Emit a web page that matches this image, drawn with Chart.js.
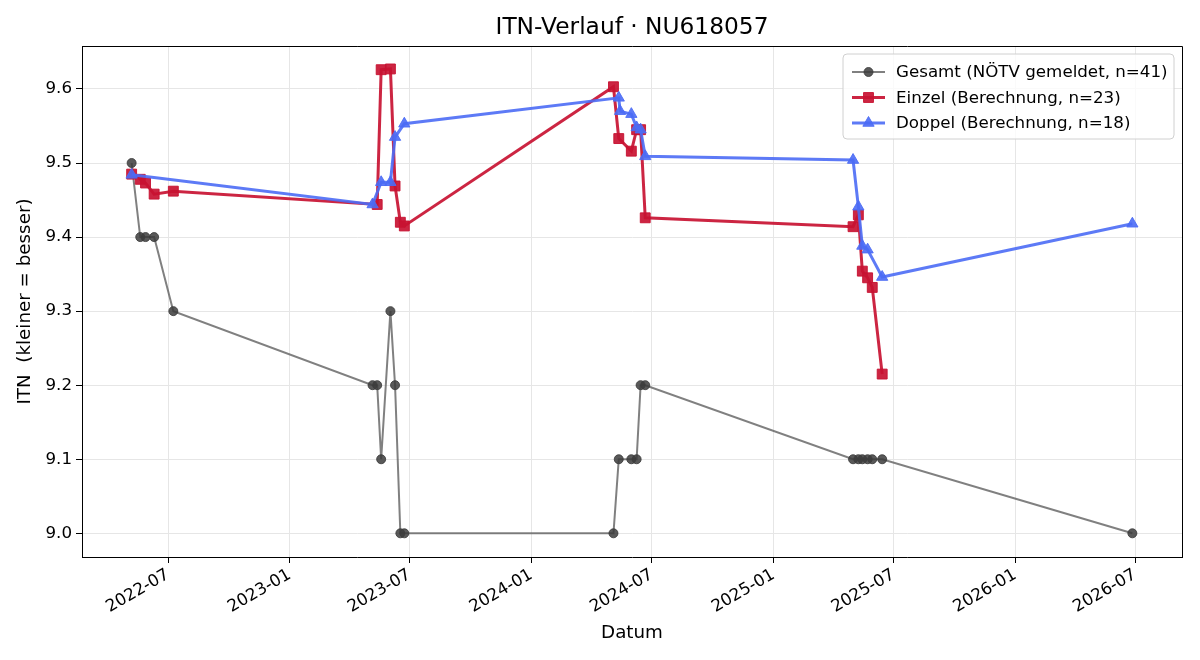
<!DOCTYPE html>
<html>
<head>
<meta charset="utf-8">
<script src="https://cdn.jsdelivr.net/npm/chart.js@4"></script>
<style>
  html, body { margin: 0; padding: 0; background: #fff; }
</style>
</head>
<body>
<canvas id="chart" width="1200" height="660"></canvas>
<script>
'use strict';

// --- data ---
var gesamtDates  = ['2022-05-07', '2022-05-20', '2022-05-28', '2022-06-10', '2022-07-09',
                    '2023-05-06', '2023-05-13', '2023-05-19', '2023-06-02', '2023-06-09', '2023-06-17', '2023-06-23',
                    '2024-05-04', '2024-05-12', '2024-05-31', '2024-06-08', '2024-06-14', '2024-06-21',
                    '2025-05-01', '2025-05-09', '2025-05-15', '2025-05-23', '2025-05-30', '2025-06-14',
                    '2026-06-27'];
var gesamtValues = [9.5, 9.4, 9.4, 9.4, 9.3,
                    9.2, 9.2, 9.1, 9.3, 9.2, 9.0, 9.0,
                    9.0, 9.1, 9.1, 9.1, 9.2, 9.2,
                    9.1, 9.1, 9.1, 9.1, 9.1, 9.1,
                    9.0];

var einzelDates  = ['2022-05-07', '2022-05-20', '2022-05-28', '2022-06-10', '2022-07-09',
                    '2023-05-13', '2023-05-19', '2023-06-02', '2023-06-09', '2023-06-17', '2023-06-23',
                    '2024-05-04', '2024-05-12', '2024-05-31', '2024-06-08', '2024-06-14', '2024-06-21',
                    '2025-05-01', '2025-05-09', '2025-05-15', '2025-05-23', '2025-05-30', '2025-06-14'];
var einzelValues = [9.485, 9.478, 9.473, 9.458, 9.462,
                    9.444, 9.626, 9.627, 9.469, 9.420, 9.415,
                    9.603, 9.533, 9.516, 9.545, 9.545, 9.426,
                    9.414, 9.430, 9.354, 9.345, 9.332, 9.215];

var doppelDates  = ['2022-05-07',
                    '2023-05-06', '2023-05-19', '2023-06-02', '2023-06-09', '2023-06-23',
                    '2024-05-12', '2024-05-14', '2024-05-31', '2024-06-08', '2024-06-14', '2024-06-21',
                    '2025-05-01', '2025-05-09', '2025-05-15', '2025-05-23', '2025-06-14',
                    '2026-06-27'];
var doppelValues = [9.484,
                    9.444, 9.474, 9.474, 9.535, 9.553,
                    9.588, 9.570, 9.566, 9.548, 9.545, 9.509,
                    9.504, 9.441, 9.388, 9.383, 9.346,
                    9.418];

var xTickLabels = ['2022-07', '2023-01', '2023-07', '2024-01', '2024-07', '2025-01', '2025-07', '2026-01', '2026-07'];
var yTickValues = [9.0, 9.1, 9.2, 9.3, 9.4, 9.5, 9.6];

var chartTitle = 'ITN-Verlauf · NU618057';
var seriesLabels = ['Gesamt (NÖTV gemeldet, n=41)', 'Einzel (Berechnung, n=23)', 'Doppel (Berechnung, n=18)'];

// --- helpers ---
function toPoints(dates, values) {
    return dates.map(function (d, i) {
        return { x: Date.parse(d), y: values[i] };
    });
}

function monthValue(label) {
    return Date.parse(label + '-01');
}

var FONT = '"DejaVu Sans", sans-serif';
Chart.defaults.font.family = FONT;
Chart.defaults.color = '#000';

var styles = {
    gesamt: { line: 'rgba(85,85,85,0.75)', point: 'rgba(60,60,60,0.85)', style: 'circle', radius: 4.5, width: 2 },
    einzel: { line: 'rgba(200,18,50,0.92)', point: 'rgba(200,18,50,0.92)', style: 'rect', radius: 7, width: 3 },
    doppel: { line: 'rgba(75,108,245,0.9)', point: 'rgba(75,108,245,0.9)', style: 'triangle', radius: 6.5, width: 3 }
};

function makeDataset(label, data, st, order) {
    return {
        label: label,
        data: data,
        order: order,
        borderColor: st.line,
        borderWidth: st.width,
        backgroundColor: st.point,
        pointBackgroundColor: st.point,
        pointBorderColor: st.point,
        pointBorderWidth: 1,
        pointStyle: st.style,
        pointRadius: st.radius,
        pointHoverRadius: st.radius,
        tension: 0,
        fill: false
    };
}

// title over the plot, spines on top/right and legend inside the plot
var framePlugin = {
    id: 'frameAndLegend',
    afterDraw: function (chart) {
        var ctx = chart.ctx;
        var a = chart.chartArea;
        ctx.save();
        ctx.strokeStyle = '#000';
        ctx.lineWidth = 1;
        ctx.beginPath();
        ctx.moveTo(a.left, a.top + 0.5);
        ctx.lineTo(a.right + 0.5, a.top + 0.5);
        ctx.lineTo(a.right + 0.5, a.bottom);
        ctx.stroke();

        ctx.fillStyle = '#000';
        ctx.font = '23.3px ' + FONT;
        ctx.textAlign = 'center';
        ctx.textBaseline = 'middle';
        ctx.fillText(chartTitle, (a.left + a.right) / 2, 28);

        // legend box
        var bx = 843, by = 54, bw = 331, bh = 85, r = 4;
        ctx.beginPath();
        ctx.moveTo(bx + r, by);
        ctx.arcTo(bx + bw, by, bx + bw, by + bh, r);
        ctx.arcTo(bx + bw, by + bh, bx, by + bh, r);
        ctx.arcTo(bx, by + bh, bx, by, r);
        ctx.arcTo(bx, by, bx + bw, by, r);
        ctx.closePath();
        ctx.fillStyle = 'rgba(255,255,255,0.8)';
        ctx.fill();
        ctx.strokeStyle = '#d0d0d0';
        ctx.stroke();

        var keys = ['gesamt', 'einzel', 'doppel'];
        var rows = [72, 97.5, 123];
        ctx.font = '16.7px ' + FONT;
        ctx.textBaseline = 'middle';
        ctx.textAlign = 'left';
        keys.forEach(function (k, i) {
            var st = styles[k];
            var y = rows[i];
            ctx.strokeStyle = st.line;
            ctx.lineWidth = st.width;
            ctx.beginPath();
            ctx.moveTo(852, y);
            ctx.lineTo(885, y);
            ctx.stroke();
            ctx.fillStyle = st.point;
            ctx.strokeStyle = st.point;
            ctx.lineWidth = 1;
            Chart.helpers.drawPoint(ctx, { pointStyle: st.style, radius: st.radius, rotation: 0, borderWidth: 1 }, 868.5, y);
            ctx.fillStyle = '#000';
            ctx.fillText(seriesLabels[i], 896, y + 1);
        });
        ctx.restore();
    }
};

var ctx = document.getElementById('chart');

var myChart = new Chart(ctx, {
    type: 'line',
    data: {
        datasets: [
            makeDataset(seriesLabels[2], toPoints(doppelDates, doppelValues), styles.doppel, 0),
            makeDataset(seriesLabels[1], toPoints(einzelDates, einzelValues), styles.einzel, 1),
            makeDataset(seriesLabels[0], toPoints(gesamtDates, gesamtValues), styles.gesamt, 2)
        ]
    },
    options: {
        responsive: false,
        devicePixelRatio: 1,
        animation: false,
        layout: { padding: { left: 0, right: 18, top: 46, bottom: 0 } },
        plugins: {
            legend: { display: false },
            tooltip: { enabled: false },
            title: { display: false }
        },
        scales: {
            x: {
                type: 'linear',
                min: Date.parse('2022-02-21'),
                max: Date.parse('2026-09-10'),
                afterBuildTicks: function (scale) {
                    scale.ticks = xTickLabels.map(function (l) { return { value: monthValue(l) }; });
                },
                afterFit: function (scale) { scale.height = 103; },
                ticks: {
                    autoSkip: false,
                    minRotation: 30,
                    maxRotation: 30,
                    padding: 2,
                    color: '#000',
                    font: { size: 16.7 },
                    callback: function (v) { return new Date(v).toISOString().slice(0, 7); }
                },
                grid: { color: '#e6e6e6', tickColor: '#000', tickLength: 6, drawTicks: true },
                border: { color: '#000', width: 1 },
                title: { display: true, text: 'Datum', color: '#000', font: { size: 18.3 }, padding: { top: 0, bottom: 16 } }
            },
            y: {
                type: 'linear',
                min: 8.968,
                max: 9.658,
                afterBuildTicks: function (scale) {
                    scale.ticks = yTickValues.map(function (v) { return { value: v }; });
                },
                afterFit: function (scale) { scale.width = 82; },
                ticks: {
                    padding: 4,
                    color: '#000',
                    font: { size: 16.7 },
                    callback: function (v) { return v.toFixed(1); }
                },
                grid: { color: '#e6e6e6', tickColor: '#000', tickLength: 6, drawTicks: true },
                border: { color: '#000', width: 1 },
                title: { display: true, text: 'ITN  (kleiner = besser)', color: '#000', font: { size: 18.3 }, padding: { top: 14, bottom: 0 } }
            }
        }
    },
    plugins: [framePlugin]
});
</script>
</body>
</html>
